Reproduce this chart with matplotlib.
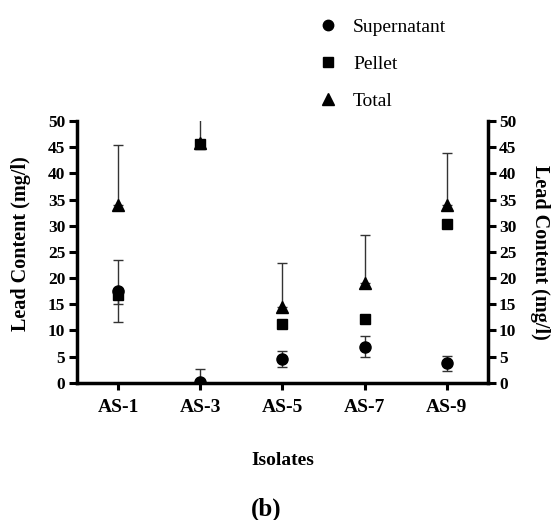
import numpy as np
import matplotlib
matplotlib.use('Agg')
import matplotlib.pyplot as plt
from matplotlib.lines import Line2D

plt.rcParams['font.family'] = ['Liberation Serif', 'DejaVu Serif']

isolates = ['AS-1', 'AS-3', 'AS-5', 'AS-7', 'AS-9']

# Lead content (mg/l) per fraction
supernatant = [17.5, 0.2, 4.5, 6.9, 3.7]
supernatant_err = [5.9, 2.35, 1.55, 2.0, 1.5]

pellet = [16.7, 45.7, 11.2, 12.1, 30.3]
pellet_err_low = [1.7, 0.0, 0.0, 0.0, 0.0]
pellet_err_high = [0.0, 6.0, 0.0, 0.0, 0.0]

total = [34.0, 45.9, 14.5, 19.0, 34.0]
total_err_high = [11.5, 0.0, 8.4, 9.3, 9.9]

x = np.arange(len(isolates))

fig = plt.figure(figsize=(5.55, 5.2), dpi=100)
ax = fig.add_axes([0.139, 0.264, 0.740, 0.503])

ebkw = dict(fmt='none', ecolor='#333333', elinewidth=1.0, capsize=3.8,
            capthick=1.0, zorder=2)

# error bars first, markers on top
ax.errorbar(x, total, yerr=[np.zeros(len(x)), total_err_high], **ebkw)
ax.errorbar(x, pellet, yerr=[pellet_err_low, pellet_err_high], **ebkw)
ax.errorbar(x, supernatant, yerr=supernatant_err, **ebkw)

ax.plot(x, total, ls='none', marker='^', ms=8.5, color='black', zorder=3)
ax.plot(x, pellet, ls='none', marker='s', ms=7, color='black', zorder=4)
ax.plot(x, supernatant, ls='none', marker='o', ms=8, color='black', zorder=5)

ax.set_xlim(-0.5, len(x) - 0.5)
ax.set_ylim(0, 50)
ax.set_yticks(np.arange(0, 51, 5))
ax.set_xticks(x)
ax.set_xticklabels(isolates, fontsize=14, fontweight='bold')
for lab in ax.get_yticklabels():
    lab.set_fontweight('bold')
ax.tick_params(axis='y', labelsize=12.5, width=2.2, length=6, pad=2.5)
ax.tick_params(axis='x', width=2.2, length=5, pad=6.5)

for side in ['top', 'right']:
    ax.spines[side].set_visible(False)
for side in ['left', 'bottom']:
    ax.spines[side].set_linewidth(2.5)

ax.set_ylabel('Lead Content (mg/l)', fontsize=14.5, fontweight='bold')
ax.yaxis.set_label_coords(-0.113, 0.532)
ax.set_xlabel('Isolates', fontsize=14, fontweight='bold', labelpad=26)

# mirrored scale on the right
ax2 = ax.twinx()
ax2.set_ylim(0, 50)
ax2.set_yticks(np.arange(0, 51, 5))
for lab in ax2.get_yticklabels():
    lab.set_fontweight('bold')
ax2.tick_params(axis='y', labelsize=12.5, width=2.2, length=6, pad=2)
for side in ['top', 'left', 'bottom']:
    ax2.spines[side].set_visible(False)
ax2.spines['right'].set_linewidth(2.5)
ax2.set_ylabel('Lead Content (mg/l)', fontsize=14.5, fontweight='bold',
               rotation=-90, labelpad=24)

handles = [
    Line2D([], [], ls='none', marker='o', ms=7.5, color='black'),
    Line2D([], [], ls='none', marker='s', ms=7, color='black'),
    Line2D([], [], ls='none', marker='^', ms=8.5, color='black'),
]
fig.legend(handles, ['Supernatant', 'Pellet', 'Total'], loc='upper left',
           bbox_to_anchor=(0.545, 0.999), frameon=False, fontsize=14,
           labelspacing=1.0, handlelength=0.8, handletextpad=0.9)

fig.text(0.479, 0.008, '(b)', fontsize=18, fontweight='bold', ha='center')

fig.savefig('out.png', dpi=100)
